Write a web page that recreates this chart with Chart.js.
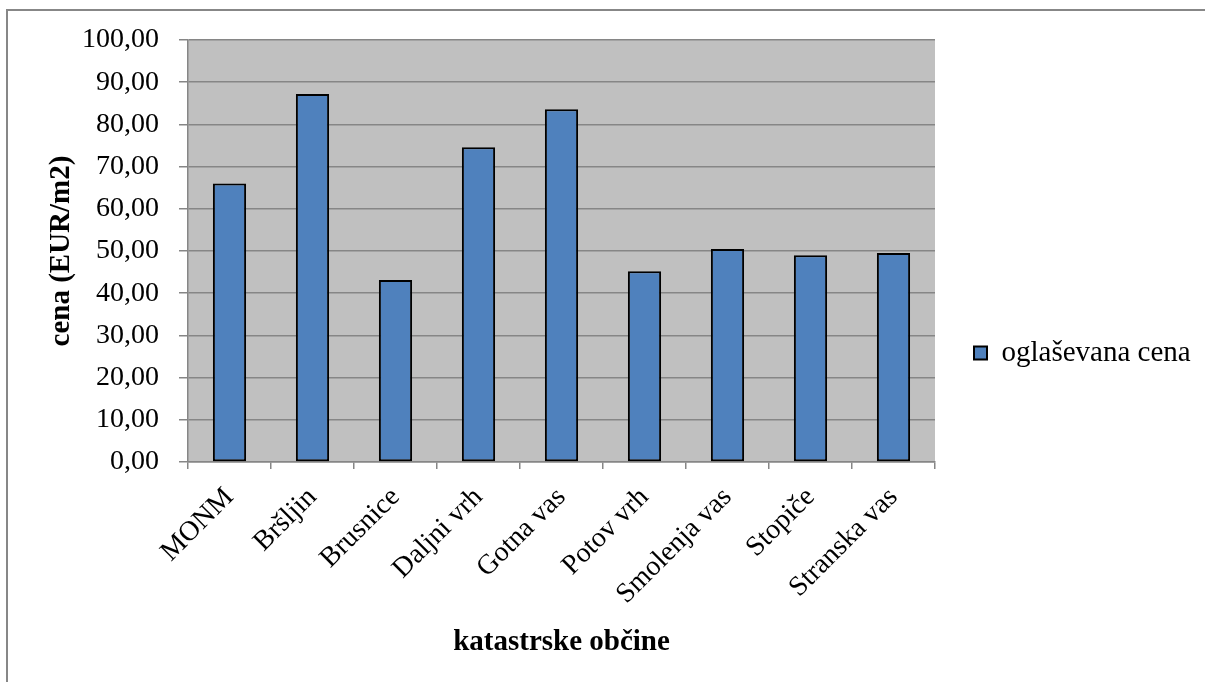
<!DOCTYPE html>
<html>
<head>
<meta charset="utf-8">
<script src="https://cdn.jsdelivr.net/npm/chart.js@4/dist/chart.umd.min.js"></script>
<style>
  html, body { margin: 0; padding: 0; background: #ffffff; }
  #wrap { position: relative; width: 1205px; height: 682px; overflow: hidden; }
  #frame { position: absolute; left: 6px; top: 9px; right: -10px; bottom: -10px;
           border-left: 2px solid #878787; border-top: 2px solid #878787; }
  canvas { position: absolute; left: 0; top: 0; }
</style>
</head>
<body>
<div id="wrap">
  <div id="frame"></div>
  <canvas id="c" width="1205" height="682"></canvas>
</div>
<script>
// katastrske občine in Mestna občina Novo mesto
const categories = ['MONM', 'Bršljin', 'Brusnice', 'Daljni vrh', 'Gotna vas',
                    'Potov vrh', 'Smolenja vas', 'Stopiče', 'Stranska vas'];
// oglaševana cena, EUR/m2
const advertisedPrice = [66.0, 87.2, 43.1, 74.6, 83.6, 45.2, 50.5, 49.0, 49.5];
const seriesName = 'oglaševana cena';
const yTitle = 'cena (EUR/m2)';
const xTitle = 'katastrske občine';
const yMin = 0, yMax = 100, yStep = 10;

const SERIF = '"Liberation Serif", "Times New Roman", serif';
const GRID = '#868686';
const LEGEND_W = 270;

Chart.defaults.font.family = SERIF;
Chart.defaults.color = '#000000';

// grey plot area background
const plotBackground = {
  id: 'plotBackground',
  beforeDraw(chart) {
    const a = chart.chartArea, ctx = chart.ctx;
    ctx.save();
    ctx.fillStyle = '#c0c0c0';
    ctx.fillRect(a.left, a.top, a.right - a.left, a.bottom - a.top);
    ctx.restore();
  }
};

// give the legend a fixed slot on the right
const legendSlot = {
  id: 'legendSlot',
  beforeLayout(chart) {
    const lg = chart.legend;
    if (lg && !lg._fixedSlot) {
      const fit = lg.fit.bind(lg);
      lg.fit = function () { fit(); this.width = LEGEND_W; };
      lg._fixedSlot = true;
    }
  }
};

new Chart(document.getElementById('c'), {
  type: 'bar',
  data: {
    labels: categories,
    datasets: [{
      label: seriesName,
      data: advertisedPrice,
      backgroundColor: '#4f81bd',
      borderColor: '#000000',
      borderWidth: 2,
      borderSkipped: false,
      barPercentage: 0.4,
      categoryPercentage: 1.0
    }]
  },
  options: {
    responsive: false,
    devicePixelRatio: 1,
    animation: false,
    layout: { padding: { top: 40, right: 0, bottom: 16, left: 0 } },
    plugins: {
      tooltip: { enabled: false },
      legend: {
        position: 'right',
        labels: {
          color: '#000000',
          font: { family: SERIF, size: 29 },
          boxWidth: 13,
          boxHeight: 13,
          padding: 39
        }
      }
    },
    scales: {
      x: {
        grid: { display: true, drawOnChartArea: false, drawTicks: true, tickLength: 7,
                color: GRID, lineWidth: 1.5, offset: true },
        border: { display: true, color: GRID, width: 1.5 },
        ticks: {
          color: '#000000',
          font: { family: SERIF, size: 28 },
          maxRotation: 45, minRotation: 45,
          autoSkip: false,
          padding: 12
        },
        title: {
          display: true, text: xTitle, color: '#000000',
          font: { family: SERIF, size: 29, weight: 'bold' },
          padding: { top: 0, bottom: 6 }
        },
        afterFit(scale) { scale.height = 204; }
      },
      y: {
        min: yMin, max: yMax,
        grid: { color: GRID, lineWidth: 1.5, drawTicks: true, tickLength: 9 },
        border: { display: true, color: GRID, width: 1.5 },
        ticks: {
          stepSize: yStep,
          color: '#000000',
          font: { family: SERIF, size: 28 },
          padding: 20,
          callback: v => v.toFixed(2).replace('.', ',')
        },
        title: {
          display: true, text: yTitle, color: '#000000',
          font: { family: SERIF, size: 29, weight: 'bold' },
          padding: { top: 44, bottom: 0 }
        },
        afterFit(scale) { scale.width = 188; }
      }
    }
  },
  plugins: [plotBackground, legendSlot]
});
</script>
</body>
</html>
